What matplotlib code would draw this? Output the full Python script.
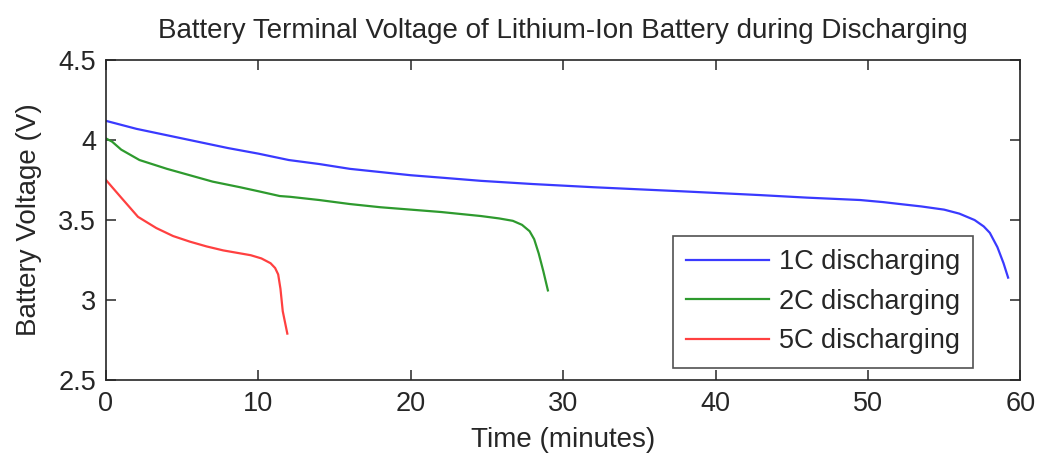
import matplotlib
matplotlib.use("Agg")
import matplotlib.pyplot as plt

# discharge curves, time in minutes / voltage in volts
t_1c = [0, 2, 4, 6, 8, 10, 12, 14, 16, 18, 20, 22, 24.6, 28, 32, 37.7, 42.9, 46, 49.5, 51, 52.1, 53.5, 55, 56, 57, 57.6, 58, 58.5, 58.9, 59.2]
v_1c = [4.12, 4.07, 4.03, 3.99, 3.95, 3.915, 3.875, 3.85, 3.82, 3.80, 3.78, 3.765, 3.745, 3.725, 3.705, 3.68, 3.656, 3.64, 3.625, 3.612, 3.60, 3.585, 3.565, 3.54, 3.50, 3.46, 3.42, 3.33, 3.23, 3.14]

t_2c = [0, 0.4, 1, 2.2, 4, 5.5, 7, 8.8, 10, 11.4, 12.1, 14, 16, 18, 20, 22, 24.6, 25.8, 26.7, 27.3, 27.8, 28.1, 28.4, 28.7, 29.0]
v_2c = [4.01, 3.99, 3.94, 3.875, 3.82, 3.78, 3.74, 3.705, 3.68, 3.65, 3.645, 3.625, 3.60, 3.58, 3.565, 3.55, 3.525, 3.51, 3.495, 3.47, 3.43, 3.38, 3.29, 3.18, 3.06]

t_5c = [0, 1, 2.1, 3.3, 4.4, 5.5, 6.6, 7.7, 8.6, 9.5, 10.2, 10.8, 11.1, 11.3, 11.45, 11.6, 11.75, 11.9]
v_5c = [3.75, 3.64, 3.52, 3.45, 3.40, 3.365, 3.335, 3.31, 3.295, 3.28, 3.26, 3.23, 3.20, 3.16, 3.07, 2.93, 2.86, 2.79]

plt.rcParams['font.family'] = ['Liberation Sans', 'DejaVu Sans']
txt = '#262626'

fig = plt.figure(figsize=(10.39, 4.62), dpi=100)
ax = fig.add_axes([0.102, 0.1775, 0.880, 0.6925])

ax.plot(t_1c, v_1c, color='#3a3aff', lw=1.6, label='1C discharging')
ax.plot(t_2c, v_2c, color='#2e9a2e', lw=1.6, label='2C discharging')
ax.plot(t_5c, v_5c, color='#ff4040', lw=1.6, label='5C discharging')

ax.set_xlim(0, 60)
ax.set_ylim(2.5, 4.5)
ax.set_xticks([0, 10, 20, 30, 40, 50, 60])
ax.set_yticks([2.5, 3, 3.5, 4, 4.5])
ax.set_yticklabels(['2.5', '3', '3.5', '4', '4.5'])
ax.tick_params(direction='in', top=True, right=True, labelsize=19.5, colors=txt, length=7, width=1.1)
ax.tick_params(axis='x', pad=8)
ax.tick_params(axis='y', pad=7)
for s in ax.spines.values():
    s.set_color(txt)
    s.set_linewidth(1.2)

ax.set_title('Battery Terminal Voltage of Lithium-Ion Battery during Discharging', fontsize=20, color=txt, pad=16)
ax.set_xlabel('Time (minutes)', fontsize=20, color=txt, labelpad=7)
ax.set_ylabel('Battery Voltage (V)', fontsize=20, color=txt, labelpad=12)

leg = ax.legend(loc='lower right', bbox_to_anchor=(0.9486, 0.0375), borderaxespad=0,
                fontsize=19.5, frameon=True, fancybox=False, edgecolor=txt,
                handlelength=3.05, handletextpad=0.35, borderpad=0.5, labelspacing=0.5)
leg.get_frame().set_linewidth(1.2)
for t in leg.get_texts():
    t.set_color(txt)

fig.savefig('out.png', dpi=100)
